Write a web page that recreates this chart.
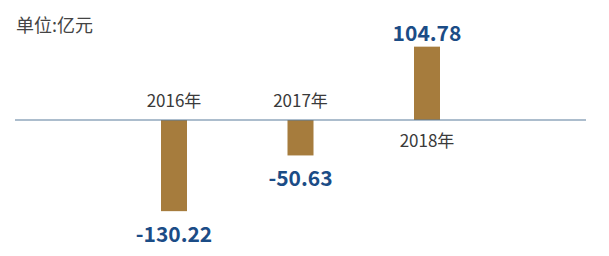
<!DOCTYPE html>
<html>
<head>
<meta charset="utf-8">
<script src="https://cdn.jsdelivr.net/npm/d3@7"></script>
<style>
  body { margin: 0; background: #fff; }
  text { font-family: "Noto Sans CJK SC", "Noto Sans", sans-serif; }
</style>
</head>
<body>
<div id="chart"></div>
<script>
const years = ['2016年', '2017年', '2018年']
const values = [-130.22, -50.63, 104.78]
const unitLabel = '单位:亿元'

const width = 609
const height = 256

const svg = d3
  .select('#chart')
  .append('svg')
  .attr('width', width)
  .attr('height', height)

const xScale = d3
  .scalePoint()
  .domain(years)
  .range([174, 427])

const yScale = d3
  .scaleLinear()
  .domain([-150, 150])
  .range([225, 15])

const barWidth = 26
const zero = yScale(0)

svg
  .append('text')
  .attr('x', 16)
  .attr('y', 32)
  .text(unitLabel)
  .style('font-size', 18)
  .style('fill', '#444')

svg
  .selectAll('.bar')
  .data(values)
  .enter()
  .append('rect')
  .attr('class', 'bar')
  .attr('x', (d, i) => xScale(years[i]) - barWidth / 2)
  .attr('y', d => Math.min(yScale(d), zero))
  .attr('width', barWidth)
  .attr('height', d => Math.abs(yScale(d) - zero))
  .attr('fill', '#a67c3d')

svg
  .append('line')
  .attr('x1', 15)
  .attr('x2', 586)
  .attr('y1', zero)
  .attr('y2', zero)
  .style('stroke', '#5b7d9c')
  .style('stroke-width', 1.2)

// year labels sit on the opposite side of the bar
svg
  .selectAll('.year-label')
  .data(values)
  .enter()
  .append('text')
  .attr('class', 'year-label')
  .attr('x', (d, i) => xScale(years[i]))
  .attr('y', d => (d < 0 ? zero - 13 : zero + 27))
  .attr('text-anchor', 'middle')
  .text((d, i) => years[i])
  .style('font-size', 17)
  .style('fill', '#3a3a3a')

svg
  .selectAll('.value-label')
  .data(values)
  .enter()
  .append('text')
  .attr('class', 'value-label')
  .attr('x', (d, i) => xScale(years[i]))
  .attr('y', d => (d < 0 ? yScale(d) + 31 : yScale(d) - 6))
  .attr('text-anchor', 'middle')
  .text(d => d.toFixed(2))
  .style('font-size', 21)
  .style('font-weight', 700)
  .style('fill', '#1b4c86')
</script>
</body>
</html>
